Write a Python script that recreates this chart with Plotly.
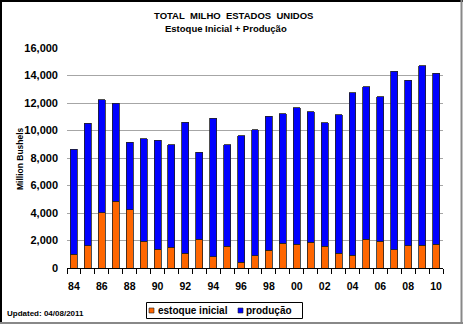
import plotly.graph_objects as go

years = list(range(1984, 2011))
totals = [8650, 10520, 12240, 12000, 9160, 9410, 9280, 8950, 10590, 8410,
          10880, 8950, 9620, 10060, 11050, 11220, 11640, 11370, 10550, 11150,
          12750, 13190, 12460, 14300, 13670, 14720, 14160]
estoque = [1000, 1620, 4020, 4850, 4240, 1940, 1360, 1500, 1070, 2080,
           820, 1580, 410, 880, 1280, 1790, 1720, 1890, 1580, 1090,
           920, 2080, 1940, 1310, 1620, 1670, 1720]
producao = [t - e for t, e in zip(totals, estoque)]
tick_years = list(range(1984, 2011, 2))
tick_text = [str(y)[2:] for y in tick_years]
series_names = ["estoque inicial", "produção"]
series_colors = ["#FF6600", "#0000FF"]

FONT = "Liberation Sans, Arial, sans-serif"
W, H = 463, 324
L, R, T, B = 67, 443, 48, 268


def px(x):
    return (x - L) / (R - L)


def py(y):
    return (B - y) / (B - T)


fig = go.Figure()
for vals, name, color in zip([estoque, producao], series_names, series_colors):
    fig.add_trace(go.Bar(x=years, y=vals, name=name,
                         marker=dict(color=color, line=dict(color="#222222", width=0.8)),
                         width=0.5))

shapes = [
    dict(type="line", xref="paper", yref="paper", x0=px(1), x1=px(1), y0=py(0), y1=py(324), line=dict(color="black", width=2)),
    dict(type="line", xref="paper", yref="paper", x0=px(0), x1=px(463), y0=py(1), y1=py(1), line=dict(color="black", width=2)),
    dict(type="line", xref="paper", yref="paper", x0=px(461.5), x1=px(461.5), y0=py(0), y1=py(324), line=dict(color="#888888", width=2)),
    dict(type="line", xref="paper", yref="paper", x0=px(0), x1=px(463), y0=py(323), y1=py(323), line=dict(color="#888888", width=2)),
    # legend box
    dict(type="rect", xref="paper", yref="paper", x0=px(146.5), x1=px(302.5), y0=py(302.5), y1=py(318.5),
         line=dict(color="black", width=1), fillcolor="white"),
]
annotations = [
    dict(text="TOTAL\u00a0\u00a0MILHO\u00a0\u00a0ESTADOS\u00a0\u00a0UNIDOS", xref="paper", yref="paper",
         x=px(233), y=py(16), showarrow=False, font=dict(size=9.5, family=FONT, weight="bold"),
         xanchor="center", yanchor="middle"),
    dict(text="Estoque Inicial + Produção", xref="paper", yref="paper",
         x=px(226), y=py(29), showarrow=False, font=dict(size=9.5, family=FONT, weight="bold"),
         xanchor="center", yanchor="middle"),
    dict(text="Updated: 04/08/2011", xref="paper", yref="paper",
         x=px(5), y=py(313), showarrow=False, font=dict(size=8, family=FONT, weight="bold"),
         xanchor="left", yanchor="middle"),
    dict(text="Million Bushels", xref="paper", yref="paper",
         x=px(20), y=py(159), showarrow=False, textangle=-90,
         font=dict(size=8.5, family=FONT, weight="bold"),
         xanchor="center", yanchor="middle"),
]
# legend entries (square swatch + label)
leg_sq_x = [149, 238]
leg_tx_x = [155.5, 243.5]
for name, color, sx, tx in zip(series_names, series_colors, leg_sq_x, leg_tx_x):
    shapes.append(dict(type="rect", xref="paper", yref="paper", x0=px(sx), x1=px(sx + 5),
                       y0=py(308), y1=py(313), fillcolor=color, line=dict(color="#222222", width=0.6)))
    annotations.append(dict(text=name, xref="paper", yref="paper", x=px(tx), y=py(310),
                            showarrow=False, xanchor="left", yanchor="middle",
                            font=dict(size=10, family=FONT, weight="bold")))

fig.update_layout(
    width=W, height=H,
    margin=dict(l=L, r=W - R, t=T, b=H - B, autoexpand=False),
    paper_bgcolor="white", plot_bgcolor="white",
    barmode="stack",
    font=dict(family=FONT, color="black", weight="bold"),
    showlegend=False,
    hovermode=False,
    shapes=shapes,
    annotations=annotations,
)

fig.update_yaxes(range=[0, 16000], tickvals=list(range(0, 16001, 2000)), tickformat=",d",
                 showgrid=True, gridcolor="#a6a6a6", gridwidth=1.2, zeroline=False,
                 showline=False, ticks="", ticklabelstandoff=8,
                 tickfont=dict(size=11, family=FONT, weight="bold"))
fig.update_xaxes(range=[1983.5, 2010.5], tickmode="array", tickvals=tick_years, ticktext=tick_text,
                 showgrid=False, zeroline=False, showline=True, linecolor="black", linewidth=1,
                 ticks="", ticklabelstandoff=8,
                 tickfont=dict(size=10.5, family=FONT, weight="bold"),
                 minor=dict(tickmode="linear", tick0=1983.5, dtick=1, ticks="outside",
                            ticklen=5, tickcolor="black", tickwidth=1, showgrid=False))

fig.write_html("out.html")
